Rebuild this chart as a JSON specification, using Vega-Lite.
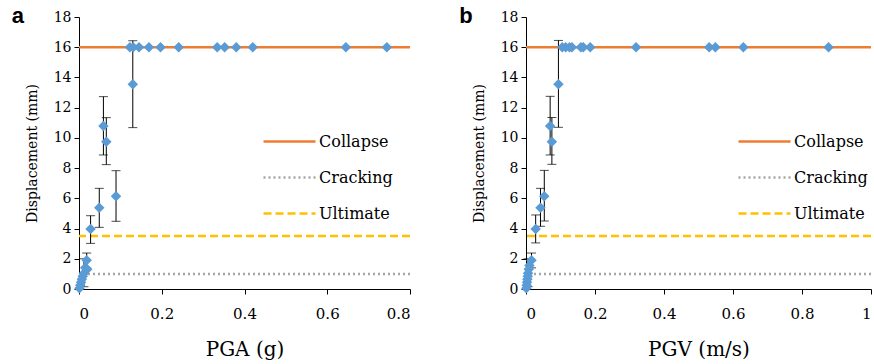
{
  "$schema": "https://vega.github.io/schema/vega-lite/v6.json",
  "padding": {"left": 11, "top": 5, "right": 2, "bottom": 2},
  "config": {
    "view": {"stroke": null},
    "font": "DejaVu Serif",
    "axis": {"domainColor": "#000", "tickColor": "#000", "labelColor": "#000", "titleColor": "#000", "labelFont": "DejaVu Serif", "titleFont": "DejaVu Serif", "titleFontWeight": "normal", "grid": false, "tickSize": 5, "labelOverlap": false},
    "axisY": {"labelFontSize": 14, "titleFontSize": 14, "titlePadding": 14, "labelPadding": 3},
    "axisX": {"labelFontSize": 15, "titleFontSize": 20, "labelPadding": 12, "titlePadding": 18},
    "legend": {"labelFont": "DejaVu Serif", "labelFontSize": 16, "labelColor": "#000", "symbolType": "stroke", "symbolSize": 2704, "symbolStrokeWidth": 2.5, "rowPadding": -27.5, "labelOffset": 2}
  },
  "datasets": {
    "pga": [
      {"x": 0.001, "y": 0.05, "lo": null, "hi": null},
      {"x": 0.003, "y": 0.25, "lo": null, "hi": null},
      {"x": 0.005, "y": 0.45, "lo": null, "hi": null},
      {"x": 0.007, "y": 0.65, "lo": null, "hi": null},
      {"x": 0.009, "y": 0.85, "lo": null, "hi": null},
      {"x": 0.012, "y": 1.05, "lo": 0.15, "hi": 2.0},
      {"x": 0.015, "y": 1.4, "lo": null, "hi": null},
      {"x": 0.02, "y": 1.3, "lo": null, "hi": null},
      {"x": 0.0186, "y": 1.9, "lo": 1.4, "hi": 2.38},
      {"x": 0.028, "y": 3.97, "lo": 3.02, "hi": 4.85},
      {"x": 0.049, "y": 5.38, "lo": 4.08, "hi": 6.66},
      {"x": 0.059, "y": 10.79, "lo": 8.87, "hi": 12.73},
      {"x": 0.066, "y": 9.75, "lo": 8.23, "hi": 11.34},
      {"x": 0.0895, "y": 6.13, "lo": 4.48, "hi": 7.83},
      {"x": 0.13, "y": 13.55, "lo": 10.68, "hi": 16.43},
      {"x": 0.123, "y": 16, "lo": null, "hi": null},
      {"x": 0.131, "y": 16, "lo": null, "hi": null},
      {"x": 0.145, "y": 16, "lo": null, "hi": null},
      {"x": 0.169, "y": 16, "lo": null, "hi": null},
      {"x": 0.197, "y": 16, "lo": null, "hi": null},
      {"x": 0.241, "y": 16, "lo": null, "hi": null},
      {"x": 0.334, "y": 16, "lo": null, "hi": null},
      {"x": 0.352, "y": 16, "lo": null, "hi": null},
      {"x": 0.38, "y": 16, "lo": null, "hi": null},
      {"x": 0.42, "y": 16, "lo": null, "hi": null},
      {"x": 0.645, "y": 16, "lo": null, "hi": null},
      {"x": 0.744, "y": 16, "lo": null, "hi": null}
    ],
    "pgv": [
      {"x": 0.001, "y": 0.05, "lo": null, "hi": null},
      {"x": 0.002, "y": 0.25, "lo": null, "hi": null},
      {"x": 0.003, "y": 0.45, "lo": null, "hi": null},
      {"x": 0.004, "y": 0.65, "lo": null, "hi": null},
      {"x": 0.005, "y": 0.85, "lo": null, "hi": null},
      {"x": 0.006, "y": 1.05, "lo": 0.15, "hi": 2.0},
      {"x": 0.008, "y": 1.3, "lo": null, "hi": null},
      {"x": 0.01, "y": 1.55, "lo": null, "hi": null},
      {"x": 0.016, "y": 1.9, "lo": 1.4, "hi": 2.38},
      {"x": 0.028, "y": 3.97, "lo": 3.05, "hi": 4.9},
      {"x": 0.042, "y": 5.38, "lo": 4.15, "hi": 6.66},
      {"x": 0.07, "y": 10.79, "lo": 8.87, "hi": 12.75},
      {"x": 0.075, "y": 9.75, "lo": 8.25, "hi": 11.35},
      {"x": 0.053, "y": 6.13, "lo": 4.5, "hi": 7.85},
      {"x": 0.094, "y": 13.55, "lo": 10.7, "hi": 16.45},
      {"x": 0.105, "y": 16, "lo": null, "hi": null},
      {"x": 0.115, "y": 16, "lo": null, "hi": null},
      {"x": 0.126, "y": 16, "lo": null, "hi": null},
      {"x": 0.133, "y": 16, "lo": null, "hi": null},
      {"x": 0.159, "y": 16, "lo": null, "hi": null},
      {"x": 0.166, "y": 16, "lo": null, "hi": null},
      {"x": 0.186, "y": 16, "lo": null, "hi": null},
      {"x": 0.319, "y": 16, "lo": null, "hi": null},
      {"x": 0.531, "y": 16, "lo": null, "hi": null},
      {"x": 0.549, "y": 16, "lo": null, "hi": null},
      {"x": 0.63, "y": 16, "lo": null, "hi": null},
      {"x": 0.877, "y": 16, "lo": null, "hi": null}
    ],
    "limits": [
      {"type": "Collapse", "v": 16},
      {"type": "Cracking", "v": 1},
      {"type": "Ultimate", "v": 3.5}
    ]
  },
  "resolve": {"scale": {"color": "independent", "strokeDash": "independent"}, "legend": {"color": "independent", "strokeDash": "independent"}},
  "spacing": 47,
  "hconcat": [
    {
      "width": 331,
      "height": 272,
      "title": {"text": "a", "orient": "left", "anchor": "end", "angle": 0, "font": "Liberation Sans", "fontWeight": "bold", "fontSize": 22, "color": "#000", "baseline": "top", "align": "right", "offset": -11, "dy": -4},
      "layer": [
        {
          "data": {"name": "limits"},
          "mark": {"type": "rule", "strokeWidth": 2.5},
          "encoding": {
            "y": {"field": "v", "type": "quantitative", "scale": {"domain": [0, 18], "nice": false}, "axis": {"values": [0,2,4,6,8,10,12,14,16,18], "title": "Displacement (mm)"}},
            "color": {"field": "type", "type": "nominal", "scale": {"domain": ["Collapse", "Cracking", "Ultimate"], "range": ["#ED7D31", "#A5A5A5", "#FFC000"]}, "legend": {"title": null, "orient": "none", "legendX": 183, "legendY": 97}},
            "strokeDash": {"field": "type", "type": "nominal", "scale": {"domain": ["Collapse", "Cracking", "Ultimate"], "range": [[1, 0], [2, 3], [8, 4]]}, "legend": {"title": null, "orient": "none", "legendX": 183, "legendY": 97}}
          }
        },
        {
          "data": {"name": "pga"},
          "transform": [{"filter": "datum.lo != null"}],
          "mark": {"type": "rule", "color": "#000", "strokeWidth": 1},
          "encoding": {
            "x": {"field": "x", "type": "quantitative", "scale": {"domain": [0, 0.8], "nice": false}, "axis": {"values": [0, 0.2, 0.4, 0.6, 0.8], "format": "~g", "title": "PGA (g)"}},
            "y": {"field": "lo", "type": "quantitative", "scale": {"domain": [0, 18], "nice": false}, "axis": {"values": [0,2,4,6,8,10,12,14,16,18], "title": "Displacement (mm)"}},
            "y2": {"field": "hi"}
          }
        },
        {
          "data": {"name": "pga"},
          "transform": [{"filter": "datum.lo != null"}],
          "mark": {"type": "tick", "orient": "horizontal", "color": "#000", "size": 9, "thickness": 1},
          "encoding": {
            "x": {"field": "x", "type": "quantitative", "scale": {"domain": [0, 0.8], "nice": false}, "axis": {"values": [0, 0.2, 0.4, 0.6, 0.8], "format": "~g", "title": "PGA (g)"}},
            "y": {"field": "lo", "type": "quantitative", "scale": {"domain": [0, 18], "nice": false}, "axis": {"values": [0,2,4,6,8,10,12,14,16,18], "title": "Displacement (mm)"}}
          }
        },
        {
          "data": {"name": "pga"},
          "transform": [{"filter": "datum.lo != null"}],
          "mark": {"type": "tick", "orient": "horizontal", "color": "#000", "size": 9, "thickness": 1},
          "encoding": {
            "x": {"field": "x", "type": "quantitative", "scale": {"domain": [0, 0.8], "nice": false}, "axis": {"values": [0, 0.2, 0.4, 0.6, 0.8], "format": "~g", "title": "PGA (g)"}},
            "y": {"field": "hi", "type": "quantitative", "scale": {"domain": [0, 18], "nice": false}, "axis": {"values": [0,2,4,6,8,10,12,14,16,18], "title": "Displacement (mm)"}}
          }
        },
        {
          "data": {"name": "pga"},
          "mark": {"type": "point", "shape": "diamond", "filled": true, "color": "#5B9BD5", "opacity": 1, "size": 110},
          "encoding": {
            "x": {"field": "x", "type": "quantitative", "scale": {"domain": [0, 0.8], "nice": false}, "axis": {"values": [0, 0.2, 0.4, 0.6, 0.8], "format": "~g", "title": "PGA (g)"}},
            "y": {"field": "y", "type": "quantitative", "scale": {"domain": [0, 18], "nice": false}, "axis": {"values": [0,2,4,6,8,10,12,14,16,18], "title": "Displacement (mm)"}}
          }
        }
      ]
    },
    {
      "width": 345,
      "height": 272,
      "title": {"text": "b", "orient": "left", "anchor": "end", "angle": 0, "font": "Liberation Sans", "fontWeight": "bold", "fontSize": 22, "color": "#000", "baseline": "top", "align": "right", "offset": -14, "dy": -4},
      "layer": [
        {
          "data": {"name": "limits"},
          "mark": {"type": "rule", "strokeWidth": 2.5},
          "encoding": {
            "y": {"field": "v", "type": "quantitative", "scale": {"domain": [0, 18], "nice": false}, "axis": {"values": [0,2,4,6,8,10,12,14,16,18], "title": "Displacement (mm)"}},
            "color": {"field": "type", "type": "nominal", "scale": {"domain": ["Collapse", "Cracking", "Ultimate"], "range": ["#ED7D31", "#A5A5A5", "#FFC000"]}, "legend": {"title": null, "orient": "none", "legendX": 211, "legendY": 97}},
            "strokeDash": {"field": "type", "type": "nominal", "scale": {"domain": ["Collapse", "Cracking", "Ultimate"], "range": [[1, 0], [2, 3], [8, 4]]}, "legend": {"title": null, "orient": "none", "legendX": 211, "legendY": 97}}
          }
        },
        {
          "data": {"name": "pgv"},
          "transform": [{"filter": "datum.lo != null"}],
          "mark": {"type": "rule", "color": "#000", "strokeWidth": 1},
          "encoding": {
            "x": {"field": "x", "type": "quantitative", "scale": {"domain": [0, 1], "nice": false}, "axis": {"values": [0, 0.2, 0.4, 0.6, 0.8, 1], "format": "~g", "title": "PGV (m/s)"}},
            "y": {"field": "lo", "type": "quantitative", "scale": {"domain": [0, 18], "nice": false}, "axis": {"values": [0,2,4,6,8,10,12,14,16,18], "title": "Displacement (mm)"}},
            "y2": {"field": "hi"}
          }
        },
        {
          "data": {"name": "pgv"},
          "transform": [{"filter": "datum.lo != null"}],
          "mark": {"type": "tick", "orient": "horizontal", "color": "#000", "size": 9, "thickness": 1},
          "encoding": {
            "x": {"field": "x", "type": "quantitative", "scale": {"domain": [0, 1], "nice": false}, "axis": {"values": [0, 0.2, 0.4, 0.6, 0.8, 1], "format": "~g", "title": "PGV (m/s)"}},
            "y": {"field": "lo", "type": "quantitative", "scale": {"domain": [0, 18], "nice": false}, "axis": {"values": [0,2,4,6,8,10,12,14,16,18], "title": "Displacement (mm)"}}
          }
        },
        {
          "data": {"name": "pgv"},
          "transform": [{"filter": "datum.lo != null"}],
          "mark": {"type": "tick", "orient": "horizontal", "color": "#000", "size": 9, "thickness": 1},
          "encoding": {
            "x": {"field": "x", "type": "quantitative", "scale": {"domain": [0, 1], "nice": false}, "axis": {"values": [0, 0.2, 0.4, 0.6, 0.8, 1], "format": "~g", "title": "PGV (m/s)"}},
            "y": {"field": "hi", "type": "quantitative", "scale": {"domain": [0, 18], "nice": false}, "axis": {"values": [0,2,4,6,8,10,12,14,16,18], "title": "Displacement (mm)"}}
          }
        },
        {
          "data": {"name": "pgv"},
          "mark": {"type": "point", "shape": "diamond", "filled": true, "color": "#5B9BD5", "opacity": 1, "size": 110},
          "encoding": {
            "x": {"field": "x", "type": "quantitative", "scale": {"domain": [0, 1], "nice": false}, "axis": {"values": [0, 0.2, 0.4, 0.6, 0.8, 1], "format": "~g", "title": "PGV (m/s)"}},
            "y": {"field": "y", "type": "quantitative", "scale": {"domain": [0, 18], "nice": false}, "axis": {"values": [0,2,4,6,8,10,12,14,16,18], "title": "Displacement (mm)"}}
          }
        }
      ]
    }
  ]
}
